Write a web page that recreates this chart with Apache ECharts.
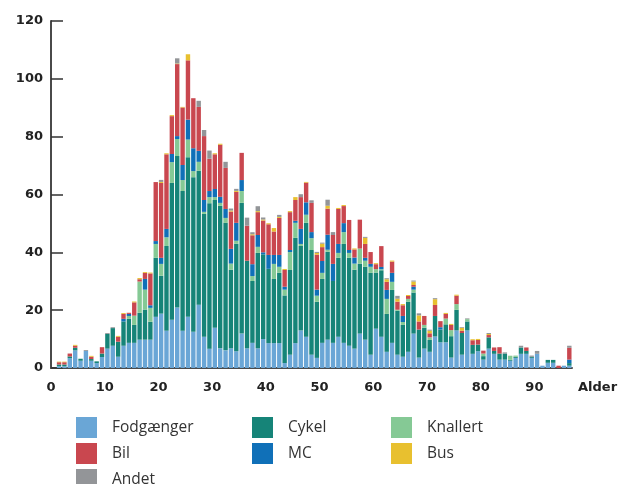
<!DOCTYPE html>
<html>
<head>
<meta charset="utf-8">
<script src="https://cdn.jsdelivr.net/npm/echarts@6/dist/echarts.min.js"></script>
<style>
  html, body { margin: 0; padding: 0; background: #fff; }
  #chart { width: 630px; height: 484px; }
</style>
</head>
<body>
<div id="chart"></div>
<script>
  // alder 0-96
  var ages = [0,1,2,3,4,5,6,7,8,9,10,11,12,13,14,15,16,17,18,19,20,21,22,23,24,25,26,27,28,29,
    30,31,32,33,34,35,36,37,38,39,40,41,42,43,44,45,46,47,48,49,50,51,52,53,54,55,56,57,58,59,
    60,61,62,63,64,65,66,67,68,69,70,71,72,73,74,75,76,77,78,79,80,81,82,83,84,85,86,87,88,89,
    90,91,92,93,94,95,96];
  var yTicks = [0, 20, 40, 60, 80, 100, 120];
  var xTicks = [0, 10, 20, 30, 40, 50, 60, 70, 80, 90];

  var fodgaenger = [0,0.6,0.6,3.4,6.1,2.5,5.9,2.5,1.7,3.8, 6.7,7.7,3.9,7.7,8.7,8.7,9.8,9.8,9.8,17.7,
    18.8,12.9,16.7,20.9,12.9,17.7,12.5,21.9,10.8,6.7, 13.9,6.8,6.1,6.8,5.8,11.9,6.8,8.7,6.8,10,
    8.6,8.6,8.6,1.7,4.6,8.6,13.0,10.8,4.6,3.5, 8.7,9.8,8.7,10.8,8.7,7.7,6.7,11.9,9.8,4.6,
    13.6,10.8,5.6,8.7,4.6,3.9,5.6,11.9,3.6,6.7, 5.6,10.9,8.9,8.9,3.6,13.0,4.6,13.0,4.9,5.8,
    2.9,6.7,4.9,2.9,2.9,2.5,3.5,4.9,4.9,3.5, 4.9,0.8,1.8,1.8,0,0.8,0.8];
  var cykel = [0,0.6,0.6,0.6,0.9,0.7,0,0.6,0.6,1.2, 5.1,6.1,5.2,8.4,8.3,6.2,9.3,10.4,6.2,20.4,
    13.1,29.3,47.3,52.4,48.3,55.2,53.5,46.3,42.5,50.3, 44.2,49.3,44.1,27.2,37.2,45.2,30.3,21.4,33.0,29.3,
    25.7,22.2,24.3,23.4,29.3,36.4,29.2,39.4,36.2,19.4, 22.1,30.4,21.4,27.3,34.2,30.4,27.3,24.2,25.2,28.3,
    19.4,23.0,13.1,18.3,15.2,11.0,17.3,14.2,9.7,7.2, 4.1,7.1,4.4,6.2,7.4,7.1,7.5,3.1,3.1,2.3,
    1.2,3.9,1.0,2.1,2.1,0.35,0.35,2.2,1.0,0.35, 0,0,1.0,1.0,0,0,0.9];
  var knallert = [0,0,0,0,0,0,0,0,0,0, 0,0,0,0,1.0,3.2,10.8,6.9,4.8,4.8,
    4.1,3.0,7.2,5.9,3.8,6.1,2.1,3.1,0.7,2.1, 1.0,1.0,1.7,2.1,1.0,4.1,0,1.7,2.1,0,
    0,5.2,2.1,2.0,6.2,5.2,0.7,2.8,4.1,2.1, 2.1,0.7,0,1.7,4.1,1.7,2.1,5.2,2.1,2.1,
    1.2,0.35,5.2,2.8,0.35,1.0,1.0,1.0,0,1.0, 0.9,0,0,2.0,2.1,2.0,0,0.8,0,0,
    0.9,0,0,0,0,1.4,0.45,0,0,0, 0,0,0,0,0,0,0];
  var mc = [0,0,0,0,0,0,0,0,0,0, 0,0,0,0.9,0.7,0,0,3.7,0.9,1.0,
    2.1,2.9,2.8,1.0,5.2,6.9,7.9,3.8,4.1,2.1, 2.8,2.1,3.1,5.1,6.2,3.8,0,4.1,4.1,0.7,
    4.8,3.1,4.1,1.0,0.7,0.7,5.2,4.3,2.1,2.1, 4.1,5.2,5.9,3.1,3.1,1.0,2.1,0,1.0,1.0,
    0,0.8,3.1,3.1,0,2.1,0,1.0,0,0, 0,0,0.8,0,0,0,0,0,0,0,
    0,0,0,0,0,0,0,0,0,0, 0,0,0,0,0,0,1.2];
  var bil = [0,0.8,0.8,1.0,0.7,0,0,0.8,0,2.2, 0,0,1.7,1.7,0.4,4.6,0.8,2.1,11.0,20.4,
    25.9,25.8,13.1,24.9,19.9,20.5,17.3,15.2,22.1,11.2, 12.0,18.0,14.2,12.9,10.7,9.4,12.1,10.0,7.9,11.0,
    10.6,8.1,12.8,5.8,13.1,7.2,11.0,6.8,10.1,12.1, 4.8,9.0,10.0,12.1,5.9,10.4,2.8,10.0,4.8,4.1,
    1.7,7.2,2.8,3.9,2.8,3.7,1.0,0.6,2.8,3.1, 1.4,3.8,2.1,1.6,1.8,2.9,0.8,0,1.6,1.6,
    1.0,0.8,1.2,2.2,0,0,0,0,1.2,0, 0,0,0,0,0.8,0,4.1];
  var bus = [0,0.2,0.2,0,0.3,0,0,0.3,0,0, 0,0,0.3,0.3,0,0.3,0.4,0.3,0.3,0,
    0.35,0.35,0.35,0.2,0.2,2.1,0,0,0,0, 0.35,0.35,0,0.35,0.35,0,0,0.35,0.35,0.35,
    0.35,1.2,0.35,0.35,0.35,1.0,0,0.25,0,0.6, 1.2,1.0,0,0.35,0.35,0,0.35,0,2.1,0,
    0.35,0,0.9,0.35,1.0,0.4,0.35,1.2,2.1,0, 0.9,2.0,0,0.35,0.35,0.35,1.0,0,0.35,0.35,
    0,0.35,0,0,0,0,0,0,0,0, 0,0,0,0,0,0,0];
  var andet = [0,0,0,0,0,0,0.3,0,0,0, 0.3,0.3,0,0,0,0,0,0,0,0,
    0.7,0,0,1.8,0,0,0,2.1,2.1,2.8, 0,0,2.1,0.7,0.7,0,2.8,0.7,1.7,0.7,
    0,0,0.7,0,0,0,1.0,0,0.9,0.35, 0.35,2.1,1.0,0,0,0,0,0,0.35,0,
    0,0,0.35,0,1.0,0,0,0.35,0.7,0, 0.35,0.35,0,0,0,0,0.25,0.25,0,0,
    0,0.35,0,0,0.4,0,0,0.6,0,0.45, 1.0,0,0,0,0,0,0.7];

  var seriesDefs = [
    { name: 'Fodgænger', data: fodgaenger, color: '#6aa6d6' },
    { name: 'Cykel', data: cykel, color: '#168478' },
    { name: 'Knallert', data: knallert, color: '#85c995' },
    { name: 'MC', data: mc, color: '#1070b8' },
    { name: 'Bil', data: bil, color: '#c9474f' },
    { name: 'Bus', data: bus, color: '#e8c02f' },
    { name: 'Andet', data: andet, color: '#939598' }
  ];

  var chart = echarts.init(document.getElementById('chart'));

  var legendBase = {
    orient: 'vertical',
    top: 417,
    height: 120,
    padding: 0,
    itemWidth: 21,
    itemHeight: 21,
    itemGap: 5,
    icon: 'rect',
    selectedMode: false,
    textStyle: {
      fontFamily: 'Open Sans',
      fontSize: 15.5,
      color: '#333',
      lineHeight: 21,
      padding: [0, 0, 0, 10]
    }
  };

  var option = {
    animation: false,
    textStyle: { fontFamily: 'DejaVu Sans' },
    grid: { left: 51, right: 58, top: 21, bottom: 116 },
    legend: [
      Object.assign({}, legendBase, { left: 76, data: ['Fodgænger', 'Bil', 'Andet'] }),
      Object.assign({}, legendBase, { left: 252, data: ['Cykel', 'MC'] }),
      Object.assign({}, legendBase, { left: 391, data: ['Knallert', 'Bus'] })
    ],
    xAxis: [
      {
        type: 'category',
        data: ages,
        axisLine: { lineStyle: { color: '#4a4a4a', width: 2 } },
        axisTick: { show: false },
        axisLabel: { show: false }
      },
      {
        // kun til etiketterne 0, 10, 20 ...
        type: 'value',
        position: 'bottom',
        min: xTicks[0],
        max: ages.length,
        interval: 10,
        axisLine: { show: false },
        axisTick: { show: false },
        splitLine: { show: false },
        axisLabel: {
          margin: 13,
          fontFamily: 'DejaVu Sans',
          fontWeight: 'bold',
          fontSize: 13,
          color: '#222',
          formatter: function (v) { return xTicks.indexOf(v) >= 0 ? String(v) : ''; }
        },
        name: 'Alder',
        nameLocation: 'end',
        nameGap: 6,
        nameTextStyle: {
          fontFamily: 'DejaVu Sans',
          fontWeight: 'bold',
          fontSize: 13,
          color: '#222',
          align: 'left',
          verticalAlign: 'top',
          padding: [13, 0, 0, 0]
        }
      }
    ],
    yAxis: {
      type: 'value',
      min: yTicks[0],
      max: yTicks[yTicks.length - 1],
      interval: 20,
      axisLine: { show: true, lineStyle: { color: '#4a4a4a', width: 2 } },
      axisTick: { show: true, inside: true, length: 12, lineStyle: { color: '#333', width: 1.5 } },
      splitLine: { show: false },
      axisLabel: {
        margin: 8,
        fontFamily: 'DejaVu Sans',
        fontWeight: 'bold',
        fontSize: 13,
        color: '#222'
      }
    },
    series: seriesDefs.map(function (s) {
      return {
        name: s.name,
        type: 'bar',
        stack: 'alle',
        xAxisIndex: 0,
        data: s.data,
        barCategoryGap: '18%',
        itemStyle: { color: s.color },
        silent: true
      };
    })
  };

  chart.setOption(option);
</script>
</body>
</html>
